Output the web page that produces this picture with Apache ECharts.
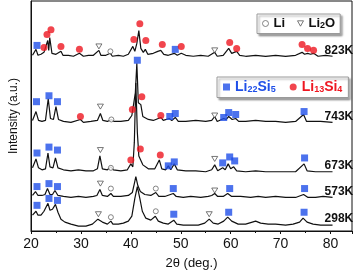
<!DOCTYPE html>
<html><head><meta charset="utf-8">
<script src="https://cdn.jsdelivr.net/npm/echarts@6/dist/echarts.min.js"></script>
<style>html,body{margin:0;padding:0;background:#fff}#c{width:354px;height:275px}</style>
</head><body><div id="c"></div>
<script>
// XRD traces: [2theta, intensity (a.u., offset stacked)]
const trace823 = [[20.3,178],[21.0,184],[21.4,178],[22.0,179],[22.6,181],[22.9,179],[23.35,193],[23.55,183],[23.75,196],[24.2,180],[25.0,179],[26.0,182],[26.4,178],[27.5,178],[28.5,177],[29.7,180],[30.5,177],[31.5,178],[32.5,178],[33.6,183],[34.0,178],[35.0,178],[35.9,180],[36.3,177],[37.5,178],[38.5,177],[39.5,179],[40.4,187],[40.8,182],[41.2,190],[41.6,203],[42.0,185],[42.5,181],[42.9,184],[43.4,179],[44.5,180],[45.4,182],[46.0,183],[46.6,179],[47.5,178],[48.7,180],[49.3,178],[50.1,180],[51.0,178],[52.5,177],[54.0,178],[55.5,177],[56.8,181],[57.3,177],[58.5,178],[59.6,185],[60.2,180],[61.2,182],[61.8,178],[63.0,177],[65.0,178],[67.0,177],[69.0,178],[71.0,177],[73.0,178],[74.3,181],[74.8,179],[75.4,180],[76.0,179],[76.6,180],[77.5,177],[79.0,178],[80.4,177]];
const trace743 = [[20.3,112],[21.0,121],[21.5,112],[22.2,111],[22.9,112],[23.45,134],[23.9,114],[24.5,113],[25.0,126],[25.5,113],[26.5,111],[28.0,110],[29.9,113],[30.5,110],[32.0,111],[33.3,112],[33.9,119],[34.4,112],[35.3,111],[36.1,113],[36.6,111],[38.0,111],[39.5,112],[40.2,117],[40.6,115],[40.9,140],[41.2,170],[41.5,130],[42.0,128],[42.4,116],[43.5,113],[44.5,112],[46.0,115],[46.5,112],[47.7,114],[48.2,112],[48.9,115],[49.5,111],[51.0,111],[53.0,112],[55.0,111],[56.2,112],[56.8,116],[57.3,111],[58.6,114],[59.1,113],[59.6,116],[60.3,113],[61.0,114],[61.6,111],[63.0,111],[65.0,112],[67.0,111],[69.0,111],[71.0,110],[73.0,111],[74.6,118],[75.2,111],[76.5,111],[78.0,111],[80.4,110]];
const trace673 = [[20.3,64],[21.0,73],[21.5,64],[22.2,62],[22.9,63],[23.4,79],[23.8,65],[24.4,64],[24.9,74],[25.4,64],[26.5,62],[28.0,61],[29.5,62],[31.0,61],[32.5,61],[33.3,63],[33.8,76],[34.3,63],[35.3,62],[36.0,65],[36.5,62],[38.0,61],[39.3,62],[40.0,68],[40.4,65],[40.7,90],[41.0,150],[41.3,100],[41.6,76],[41.9,77],[42.4,67],[43.5,63],[44.8,63],[45.7,72],[46.2,63],[47.0,62],[47.5,66],[48.0,62],[48.7,68],[49.3,62],[51.0,61],[53.0,61],[55.0,60],[56.2,62],[56.8,67],[57.4,61],[58.4,64],[58.9,62],[59.5,68],[60.0,63],[60.6,65],[61.2,61],[63.0,60],[65.0,61],[67.0,60],[69.0,60],[71.0,60],[73.0,60],[74.7,68],[75.3,61],[77.0,60],[78.5,60],[80.4,60]];
const trace573 = [[20.3,36],[20.9,40],[21.4,36],[22.2,36],[22.8,37],[23.3,43],[23.8,37],[24.3,37],[24.8,41],[25.4,36],[26.5,35],[28.0,34],[29.5,35],[31.0,34],[32.5,35],[33.2,36],[33.8,42],[34.3,36],[35.3,35],[36.0,38],[36.5,35],[38.0,35],[39.5,36],[40.3,39],[40.7,48],[41.0,55],[41.4,46],[41.9,40],[42.8,37],[44.0,36],[45.0,39],[45.6,35],[46.8,35],[48.5,38],[49.1,35],[50.5,34],[52.0,35],[54.0,34],[55.5,35],[56.2,36],[56.8,38],[57.4,35],[58.5,35],[59.4,38],[60.2,35],[62.0,35],[64.0,34],[65.5,35],[67.0,34],[69.0,35],[71.0,34],[73.0,34],[74.6,37],[75.5,34],[77.0,34],[78.5,35],[80.4,34]];
const trace298 = [[20.3,16],[20.6,17],[21.0,20],[21.4,16],[22.0,16],[22.6,20],[23.0,24],[23.4,28],[23.8,21],[24.3,22],[24.9,27],[25.4,19],[26.0,12],[26.8,9],[28.0,7],[29.5,5],[31.0,5],[32.3,7],[33.4,12],[34.3,9],[35.3,7],[36.0,10],[36.4,7],[37.5,7],[38.5,8],[39.5,10],[40.2,15],[40.8,33],[41.3,45],[41.8,33],[42.3,20],[43.0,13],[44.0,11],[44.9,15],[45.5,10],[46.5,8],[47.5,7],[48.6,11],[49.2,7],[50.5,6],[52.0,6],[53.5,6],[54.8,8],[55.7,12],[56.5,8],[57.5,7],[58.6,10],[59.4,14],[60.2,10],[61.5,7],[63.0,7],[65.0,10],[66.0,8],[67.5,7],[69.0,7],[71.0,6],[72.5,7],[73.8,9],[74.5,13],[75.3,9],[76.5,7],[78.0,6],[80.4,6]];

const traceNames = ['823K','743K','673K','573K','298K'];

// Phase markers [2theta, intensity]
const li22si5Marks = [[21.2,188],[48.9,184],
  [21.1,131],[23.6,137],[25.3,131],[41.3,173],[47.8,116],[48.9,119],[58.6,115],[59.6,120],[61.0,118],[74.7,121],
  [21.2,79],[23.6,85],[25.3,82],[47.5,66],[48.7,70],[58.4,69],[59.8,75],[60.8,71],[74.8,74],
  [21.2,45],[23.6,48],[25.3,45],[48.5,43],[59.8,43],[74.8,43],
  [21.2,26],[23.6,33],[25.3,31],[48.6,17],[59.6,19],[74.7,19]];
const li13si4Marks = [[22.6,186],[23.2,199],[24.0,204],[26.0,187],[29.7,184],[40.6,194],[41.8,210],[43.0,193],[46.3,189],[50.1,187],[59.8,191],[61.2,185],[74.3,189],[75.4,185],[76.6,183],
  [29.9,116],[40.3,123],[42.2,136],[46.0,117],
  [40.0,72],[41.9,83],[45.9,77]];
const liMarks = [[35.9,182],[36.1,113],[36.0,64],[36.0,43],[45.0,43],[36.0,14],[45.0,20]];
const li2oMarks = [[33.6,187],[56.8,183],[33.9,126],[56.8,117],[33.9,82],[56.8,73],[33.9,48],[56.8,41],[33.5,17],[55.7,17]];

const xTicks = {min: 20, max: 84.3, interval: 10};

const FONT = "'Liberation Sans', Arial, sans-serif";
const BLUE = '#1f4fe8', RED = '#ee1620';
const TRI = 'path://M0,0 L10,0 L5,9 Z';
const hollowCircle = {color: '#fff', borderColor: '#666', borderWidth: 1};
const hollowTri = {color: '#fff', borderColor: '#444', borderWidth: 0.9};

const chart = echarts.init(document.getElementById('c'));
const lineSeries = [trace823, trace743, trace673, trace573, trace298].map((d, i) => ({
  name: traceNames[i], type: 'line', data: d, showSymbol: false, symbol: 'none',
  lineStyle: {color: '#111', width: 1.2}, z: 2, silent: true,
  endLabel: {show: true, formatter: '{a}', offset: [-16, -6], fontFamily: FONT, fontWeight: 'bold', fontSize: 12, color: '#111'}
}));

chart.setOption({
  animation: false,
  textStyle: {fontFamily: FONT},
  grid: {left: 27, right: 2, top: 1, bottom: 41, show: true, borderColor: '#111', borderWidth: 1},
  xAxis: {type: 'value', min: xTicks.min, max: xTicks.max, interval: xTicks.interval,
    name: '2θ (deg.)', nameLocation: 'middle', nameGap: 26, nameTextStyle: {fontSize: 13, color: '#111', fontFamily: FONT},
    axisLine: {lineStyle: {color: '#111'}}, axisTick: {show: true, length: 3, lineStyle: {color: '#111'}},
    minorTick: {show: true, splitNumber: 2, length: 2, lineStyle: {color: '#111'}},
    axisLabel: {fontSize: 14, color: '#111', margin: 6, showMaxLabel: false, fontFamily: FONT},
    splitLine: {show: false}},
  yAxis: {type: 'value', min: 0, max: 233, name: 'Intensity (a.u.)', nameLocation: 'middle', nameGap: 11,
    nameTextStyle: {fontSize: 12, color: '#111', fontFamily: FONT},
    axisLine: {show: true, lineStyle: {color: '#111'}}, axisTick: {show: false}, axisLabel: {show: false}, splitLine: {show: false}},
  legend: [
    {data: [{name: 'Li', icon: 'circle', itemStyle: hollowCircle}, {name: 'Li2O', icon: TRI, itemStyle: hollowTri}], left: 257, top: 14, orient: 'horizontal',
     itemWidth: 6, itemHeight: 6, itemGap: 12, padding: [3, 5, 3, 5], selectedMode: false,
     backgroundColor: '#fff', borderColor: '#9a9a9a', borderWidth: 1, shadowColor: 'rgba(0,0,0,0.35)', shadowBlur: 2, shadowOffsetX: 2, shadowOffsetY: 2,
     formatter: n => n === 'Li' ? '{k|Li}' : '{k|Li}{ks|2}{k|O}',
     textStyle: {rich: {k: {fontSize: 13, fontWeight: 'bold', color: '#111', fontFamily: FONT}, ks: {fontSize: 9, fontWeight: 'bold', color: '#111', padding: [5, 0, 0, 0], fontFamily: FONT}}}},
    {data: [{name: 'Li22Si5', icon: 'rect'}, {name: 'Li13Si4', icon: 'circle'}], left: 217, top: 77, orient: 'horizontal',
     itemWidth: 7, itemHeight: 7, itemGap: 14, padding: [3, 6, 3, 6], selectedMode: false,
     backgroundColor: '#fff', borderColor: '#9a9a9a', borderWidth: 1, shadowColor: 'rgba(0,0,0,0.35)', shadowBlur: 2, shadowOffsetX: 2, shadowOffsetY: 2,
     formatter: n => n === 'Li22Si5' ? '{b|Li}{bs|22}{b|Si}{bs|5}' : '{r|Li}{rs|13}{r|Si}{rs|4}',
     textStyle: {rich: {
       b: {fontSize: 14, fontWeight: 'bold', color: BLUE, fontFamily: FONT},
       bs: {fontSize: 9, fontWeight: 'bold', color: BLUE, padding: [6, 0, 0, 0], fontFamily: FONT},
       r: {fontSize: 14, fontWeight: 'bold', color: RED, fontFamily: FONT},
       rs: {fontSize: 9, fontWeight: 'bold', color: RED, padding: [6, 0, 0, 0], fontFamily: FONT}}}}
  ],
  series: lineSeries.concat([
    {name: 'Li22Si5', type: 'scatter', data: li22si5Marks, symbol: 'rect', symbolSize: 7, itemStyle: {color: BLUE}, z: 5, silent: true},
    {name: 'Li13Si4', type: 'scatter', data: li13si4Marks, symbol: 'circle', symbolSize: 7, itemStyle: {color: RED}, z: 5, silent: true},
    {name: 'Li', type: 'scatter', data: liMarks, symbol: 'circle', symbolSize: 5, itemStyle: hollowCircle, z: 5, silent: true},
    {name: 'Li2O', type: 'scatter', data: li2oMarks, symbol: TRI, symbolSize: [6, 5], itemStyle: hollowTri, z: 5, silent: true}
  ])
});
</script></body></html>
